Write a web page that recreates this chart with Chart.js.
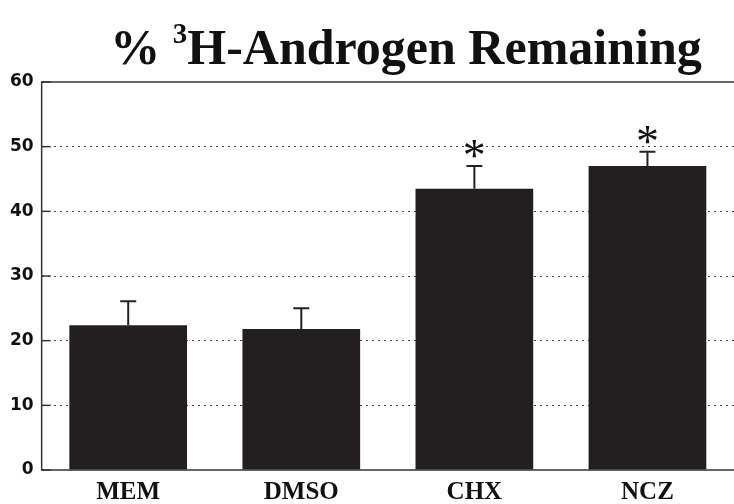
<!DOCTYPE html>
<html>
<head>
<meta charset="utf-8">
<script src="https://cdn.jsdelivr.net/npm/chart.js@4"></script>
<style>
  html, body { margin: 0; padding: 0; background: #fff; }
  #wrap { width: 734px; height: 504px; position: relative; }
</style>
</head>
<body>
<div id="wrap"><canvas id="androgenChart"></canvas></div>
<script>
// data
const groups = ['MEM', 'DMSO', 'CHX', 'NCZ'];
const remaining = [22.4, 21.8, 43.5, 47.0];
const sem = [3.7, 3.2, 3.5, 2.2];
const starred = [false, false, true, true];
const yTicks = [0, 10, 20, 30, 40, 50, 60];

// title with superscript 3, drawn at top of canvas
const titlePlugin = {
    id: 'supTitle',
    afterDraw(chart) {
        const ctx = chart.ctx;
        ctx.save();
        ctx.fillStyle = '#111';
        ctx.textBaseline = 'alphabetic';
        const big = 'bold 50px "Liberation Serif", "Times New Roman", serif';
        const small = 'bold 29px "Liberation Serif", "Times New Roman", serif';
        const parts = [['% ', big, 0], ['3', small, -21], ['H-Androgen Remaining', big, 0]];
        let total = 0;
        parts.forEach(p => { ctx.font = p[1]; total += ctx.measureText(p[0]).width; });
        let x = 406 - total / 2;
        parts.forEach(p => {
            ctx.font = p[1];
            ctx.fillText(p[0], x, 64 + p[2]);
            x += ctx.measureText(p[0]).width;
        });
        ctx.restore();
    }
};

// upper error bars + asterisks + the solid frame lines
const errorPlugin = {
    id: 'errBars',
    afterDatasetsDraw(chart) {
        const ctx = chart.ctx;
        const y = chart.scales.y;
        const area = chart.chartArea;
        const meta = chart.getDatasetMeta(0);
        ctx.save();
        ctx.strokeStyle = '#222';
        ctx.lineWidth = 2;
        meta.data.forEach((bar, i) => {
            const top = y.getPixelForValue(remaining[i] + sem[i]);
            const base = y.getPixelForValue(remaining[i]);
            ctx.beginPath();
            ctx.moveTo(bar.x, base);
            ctx.lineTo(bar.x, top);
            ctx.moveTo(bar.x - 8, top);
            ctx.lineTo(bar.x + 8, top);
            ctx.stroke();
            if (starred[i]) {
                ctx.fillStyle = '#111';
                ctx.font = '46px "Liberation Serif", serif';
                ctx.textAlign = 'center';
                ctx.textBaseline = 'top';
                ctx.fillText('*', bar.x, top - 30);
            }
        });
        ctx.strokeStyle = '#333';
        ctx.lineWidth = 1.5;
        ctx.beginPath();
        ctx.moveTo(area.right, area.top);
        ctx.lineTo(area.left, area.top);
        ctx.lineTo(area.left, area.bottom);
        ctx.lineTo(area.right, area.bottom);
        ctx.stroke();
        // short tick marks inside the left axis
        yTicks.forEach(v => {
            const py = y.getPixelForValue(v);
            ctx.beginPath();
            ctx.moveTo(area.left, py);
            ctx.lineTo(area.left + 9, py);
            ctx.stroke();
        });
        ctx.restore();
    }
};

new Chart(document.getElementById('androgenChart'), {
    type: 'bar',
    data: {
        labels: groups,
        datasets: [{
            data: remaining,
            backgroundColor: '#231f20',
            borderWidth: 0,
            barPercentage: 0.68,
            categoryPercentage: 1.0
        }]
    },
    options: {
        responsive: true,
        maintainAspectRatio: false,
        animation: false,
        layout: { padding: { top: 82, right: 0, left: 2, bottom: -12 } },
        plugins: {
            legend: { display: false },
            tooltip: { enabled: false }
        },
        scales: {
            x: {
                grid: { display: false, drawTicks: false },
                border: { display: false },
                ticks: {
                    color: '#111',
                    padding: 8,
                    font: { family: '"Liberation Serif", serif', weight: 'bold', size: 25 }
                }
            },
            y: {
                min: 0,
                max: 60,
                afterBuildTicks: axis => { axis.ticks = yTicks.map(v => ({ value: v })); },
                border: { display: false, dash: [2, 4] },
                grid: {
                    drawTicks: false,
                    color: ctx => (ctx.tick && (ctx.tick.value === 0 || ctx.tick.value === 60)) ? 'rgba(0,0,0,0)' : '#444',
                    lineWidth: 1
                },
                ticks: {
                    color: '#111',
                    padding: 8,
                    font: { family: '"DejaVu Sans", sans-serif', weight: 'bold', size: 17 }
                }
            }
        }
    },
    plugins: [titlePlugin, errorPlugin]
});
</script>
</body>
</html>
